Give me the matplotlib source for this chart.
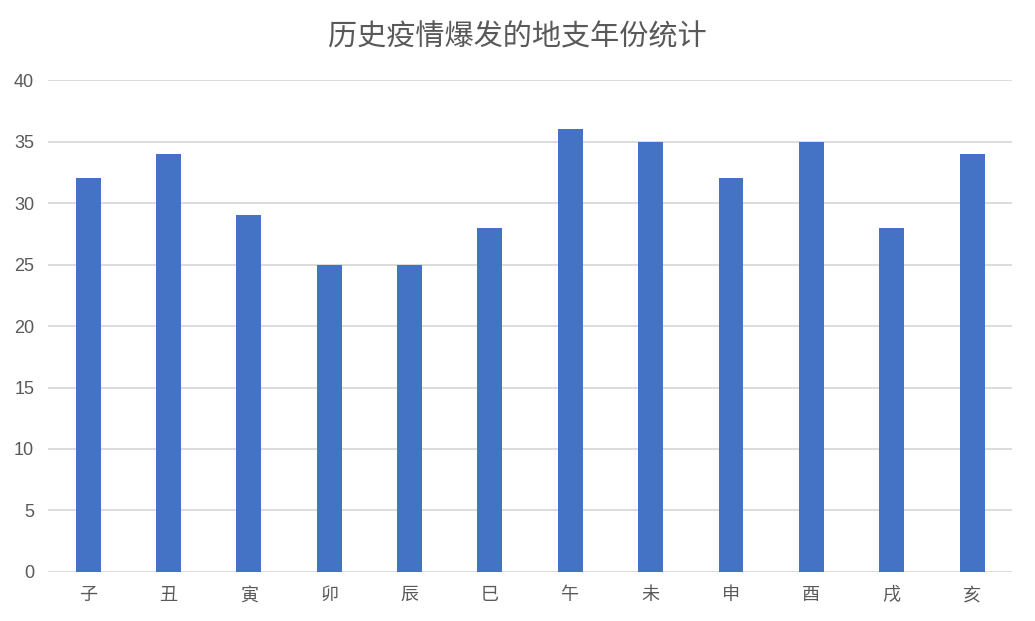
import matplotlib.pyplot as plt

plt.rcParams['font.family'] = ['Liberation Sans', 'Noto Sans CJK SC']

branches = ["子", "丑", "寅", "卯", "辰", "巳", "午", "未", "申", "酉", "戌", "亥"]
counts = [32, 34, 29, 25, 25, 28, 36, 35, 32, 35, 28, 34]

fig = plt.figure(figsize=(10.35, 6.21), dpi=100)
ax = fig.add_axes([0.0464, 0.079, 0.9316, 0.792])

x = range(len(branches))
ax.bar(x, counts, width=0.31, color="#4472C4", zorder=3)

ax.set_xlim(-0.5, len(branches) - 0.5)
ax.set_ylim(0, 40)
ax.set_yticks(range(0, 41, 5))
ax.set_xticks(list(x))
ax.set_xticklabels(branches)

ax.grid(axis="y", color="#D9D9D9", linewidth=1.3, zorder=0)
for s in ax.spines.values():
    s.set_visible(False)
ax.tick_params(length=0, colors="#595959", labelsize=13)
ax.tick_params(axis="y", pad=10)
ax.tick_params(axis="x", pad=11)

fig.text(0.5, 0.94, "历史疫情爆发的地支年份统计", ha="center", va="center",
         fontsize=21, color="#595959", family="Noto Sans CJK SC")

fig.savefig("out.png", dpi=100)
